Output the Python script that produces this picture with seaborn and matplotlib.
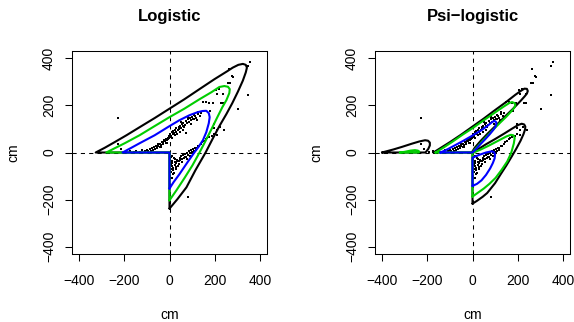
import numpy as np
import pandas as pd
import matplotlib
matplotlib.use("Agg")
import matplotlib.pyplot as plt
import seaborn as sns

sns.set_theme(style="white")
plt.rcParams['font.family'] = ['Liberation Sans', 'DejaVu Sans']
plt.rcParams['axes.unicode_minus'] = True

# ---------------- data: observed points (cm) ----------------
# outlying points
out_x = [358, 346, 346, 305, 265, 276, 282, 257, 269, 236, 211, 228, 236, 206, 218, 191, 174, 162, 147, 199, 209,
         -228, -226, -214, 84, 225, 240, 196, 181]
out_y = [385, 368, 246, 184, 354, 325, 321, 296, 293, 250, 247, 212, 208, 265, 268, 211, 212, 215, 215, 102, 95,
         147, 38, 15, -189, 110, 96, 121, 178]
# upper arm
up_x = [-191, -176, -158, -147, -131, -122, -109, -101, -95, -88, -83, -77, -74, -69, -63, -60, -55, -51, -49, -44,
        -41, -37, -33, -31, -27, -24, -20, -17, -15, -11, -8, -5, -3, -1, 2, 4, 7, 9, 11, 14, 17, 20, 23, 25, 28,
        31, 34, 37, 40, 44, 47, 51, 55, 58, 62, 67, 71, 76, 80, 85, 91, 96, 101, 107, 113, 119, 126, 133, 139,
        52, 66, 81, 88, 103, 110, 125, 59, 74, -36, -12, 13, 45, 97, 120]
up_y = [2, 5, 1, 7, 3, 9, 5, 12, 6, 15, 8, 19, 11, 24, 15, 29, 19, 26, 34, 23, 38, 31, 45, 36, 43, 52, 47, 57, 41,
        52, 63, 56, 71, 61, 66, 79, 70, 86, 62, 77, 91, 82, 74, 96, 88, 102, 80, 95, 108, 99, 114, 106, 121, 112,
        127, 118, 134, 124, 141, 129, 147, 136, 152, 141, 156, 148, 162, 154, 167,
        130, 109, 151, 130, 144, 158, 172, 95, 81, 22, 40, 60, 89, 122, 138]
# lower arm
lo_x = [2, 4, 3, 6, 5, 8, 4, 9, 11, 13, 15, 17, 16, 21, 23, 26, 27, 31, 35, 37, 41, 45, 48, 53, 57, 61, 64, 69,
        72, 77, 81, 85, 89, 94, 98, 103, 108, 114, 119, 126, 132, 138, 146, 153, 161, 168, 176, 188, 199, 211,
        10, 19, 30, 44, 56, 67, 79, 92, 106, 117, 7, 13, 24, 34]
lo_y = [-8, -27, -43, -52, -71, -83, -98, -110, -34, -46, -64, -75, -92, -22, -41, -51, -68, -44, -30, -57, -38,
        -24, -33, -16, -28, -11, -24, -7, -17, -1, -10, 5, -4, 9, 1, 13, 8, 20, 17, 29, 26, 38, 43, 50, 57, 61,
        65, 69, 79, 75, -58, -86, -63, -47, -40, -19, -26, -15, 0, 11, -18, -16, -28, -36]

pts_x = out_x + up_x + lo_x
pts_y = out_y + up_y + lo_y

ticks = [-400, -200, 0, 200, 400]
tick_labels = ["\u2212400", "\u2212200", "0", "200", "400"]
titles = ["Logistic", "Psi\u2212logistic"]
axis_label = "cm"

# ---------------- data: contour curves, Logistic panel ----------------
log_black_x = [0, 35, 75, 115, 160, 190, 221, 252, 278, 303, 325, 338, 343, 338, 325, 305, 280, 256, 199, 133, 66,
               0, -66, -133, -191, -243, -287, -327, 0]
log_black_y = [-238, -198, -148, -75, 0, 56, 112, 163, 209, 258, 305, 340, 360, 372, 376, 372, 360, 345, 311, 269,
               226, 186, 146, 107, 73, 44, 20, 0, 0]
log_green_x = [0, 31, 66, 102, 133, 159, 186, 212, 234, 252, 265, 267, 259, 243, 221, 186, 133, 66, 0, -66, -133,
               -199, -243, -280, 0]
log_green_y = [-203, -160, -109, -54, 0, 48, 99, 150, 192, 222, 252, 269, 279, 282, 278, 256, 226, 186, 150, 112,
               73, 39, 18, 0, 0]
log_blue_x = [0, 18, 44, 80, 110, 128, 148, 163, 174, 178, 174, 163, 146, 124, 88, 44, 0, -66, -133, -175, -208, 0]
log_blue_y = [-153, -126, -92, -41, 0, 23, 52, 86, 124, 150, 167, 177, 176, 171, 158, 137, 112, 73, 39, 17, 0, 0]

# ---------------- data: contour curves, Psi-logistic panel ----------------
psi_black_small_x = [-401, -350, -312, -270, -235, -210, -197, -189, -189, -196, -205, -209]
psi_black_small_y = [0, 13, 24, 37, 47, 52, 50, 42, 30, 15, 4, 0]
psi_green_small_x = [-322, -300, -275, -255, -242, -236, -238]
psi_green_small_y = [0, 3, 8, 10, 8, 4, 0]

psi_black_up_x = [-173, -140, -100, -50, 0, 50, 100, 150, 190, 215, 230, 241, 245, 241, 230, 214, 180, 141, 100,
                  67, 35, 10, 0, 0]
psi_black_up_y = [0, 20, 44, 76, 110, 144, 180, 215, 245, 262, 271, 270, 261, 250, 237, 220, 186, 150, 111,
                  80, 48, 20, 5, 0]
psi_green_up_x = [-164, -130, -90, -45, 0, 50, 100, 140, 163, 175, 186, 190, 185, 172, 150, 124, 100, 75, 50, 25,
                  5, 0]
psi_green_up_y = [0, 20, 45, 75, 103, 137, 170, 196, 210, 214, 210, 201, 190, 175, 152, 128, 105, 80, 55, 28, 7, 0]
psi_blue_up_x = [-142, -110, -75, -40, 0, 40, 70, 88, 97, 104, 106, 102, 92, 75, 55, 35, 15, 0]
psi_blue_up_y = [0, 14, 32, 50, 72, 95, 116, 130, 134, 130, 122, 110, 96, 76, 55, 35, 14, 0]

psi_black_lo_x = [0, 20, 45, 65, 100, 125, 150, 175, 195, 213, 226, 233, 234, 229, 218, 203, 180, 140, 100, 60,
                  30, 0]
psi_black_lo_y = [-217, -205, -188, -172, -130, -92, -55, -15, 18, 50, 78, 98, 110, 119, 122, 117, 104, 80, 57,
                  35, 17, 0]
psi_green_lo_x = [0, 25, 50, 75, 102, 128, 154, 172, 183, 187, 181, 170, 150, 110, 70, 35, 0]
psi_green_lo_y = [-187, -170, -153, -133, -108, -75, -38, 0, 38, 62, 73, 75, 68, 48, 28, 12, -2]
psi_blue_lo_x = [0, 20, 40, 60, 78, 90, 98, 100, 95, 85, 60, 30, 0]
psi_blue_lo_y = [-142, -133, -118, -95, -68, -45, -25, -8, 2, 5, 0, -10, -22]

BLACK, GREEN, BLUE = "black", "#00CD00", "#0000FF"

panels = [
    [(log_black_x, log_black_y, BLACK), (log_green_x, log_green_y, GREEN), (log_blue_x, log_blue_y, BLUE)],
    [(psi_black_small_x, psi_black_small_y, BLACK), (psi_black_up_x, psi_black_up_y, BLACK),
     (psi_black_lo_x, psi_black_lo_y, BLACK),
     (psi_green_small_x, psi_green_small_y, GREEN), (psi_green_up_x, psi_green_up_y, GREEN),
     (psi_green_lo_x, psi_green_lo_y, GREEN),
     (psi_blue_up_x, psi_blue_up_y, BLUE), (psi_blue_lo_x, psi_blue_lo_y, BLUE)],
]

W, H = 574, 322
fig = plt.figure(figsize=(W / 100, H / 100), dpi=100)
fig.patch.set_facecolor("white")
lefts = [72, 375]
for i, left in enumerate(lefts):
    ax = fig.add_axes([left / W, (H - 254.3) / H, 195 / W, 203.6 / H])
    ax.set_facecolor("white")
    ax.axhline(0, color="black", lw=0.75, ls=(0, (4, 4)), zorder=1)
    ax.axvline(0, color="black", lw=0.75, ls=(0, (4, 4)), zorder=1)
    sns.scatterplot(x=pts_x, y=pts_y, marker="s", s=4.2, color="black", linewidth=0, ax=ax, zorder=2)
    for cx, cy, col in panels[i]:
        xs = list(cx) + [cx[0]]
        ys = list(cy) + [cy[0]]
        sns.lineplot(x=xs, y=ys, sort=False, estimator=None, color=col, lw=1.5, ax=ax, zorder=3,
                     solid_joinstyle="round", solid_capstyle="round")
    ax.set_xlim(-432, 432)
    ax.set_ylim(-432, 432)
    ax.set_xticks(ticks)
    ax.set_xticklabels(tick_labels)
    ax.set_yticks(ticks)
    ax.set_yticklabels(tick_labels, rotation=90, va="center")
    ax.tick_params(axis="both", direction="out", length=5, width=0.75, color="black",
                   labelsize=10, labelcolor="black", bottom=True, left=True)
    ax.tick_params(axis="x", pad=9.5)
    ax.tick_params(axis="y", pad=6.5)
    for sp in ax.spines.values():
        sp.set_visible(True)
        sp.set_color("black")
        sp.set_linewidth(0.75)
    ax.set_title(titles[i], fontsize=12, fontweight="bold", pad=21.4, color="black")
    ax.set_xlabel(axis_label, fontsize=10, color="black")
    ax.set_ylabel(axis_label, fontsize=10, color="black")
    ax.xaxis.set_label_coords(0.5, -0.298)
    ax.xaxis.label.set_va("center")
    ax.yaxis.set_label_coords(-0.3026, 0.5)
    ax.yaxis.label.set_va("center")
    ax.yaxis.label.set_ha("center")
    ax.grid(False)

fig.savefig("out.png", dpi=100, facecolor="white")
